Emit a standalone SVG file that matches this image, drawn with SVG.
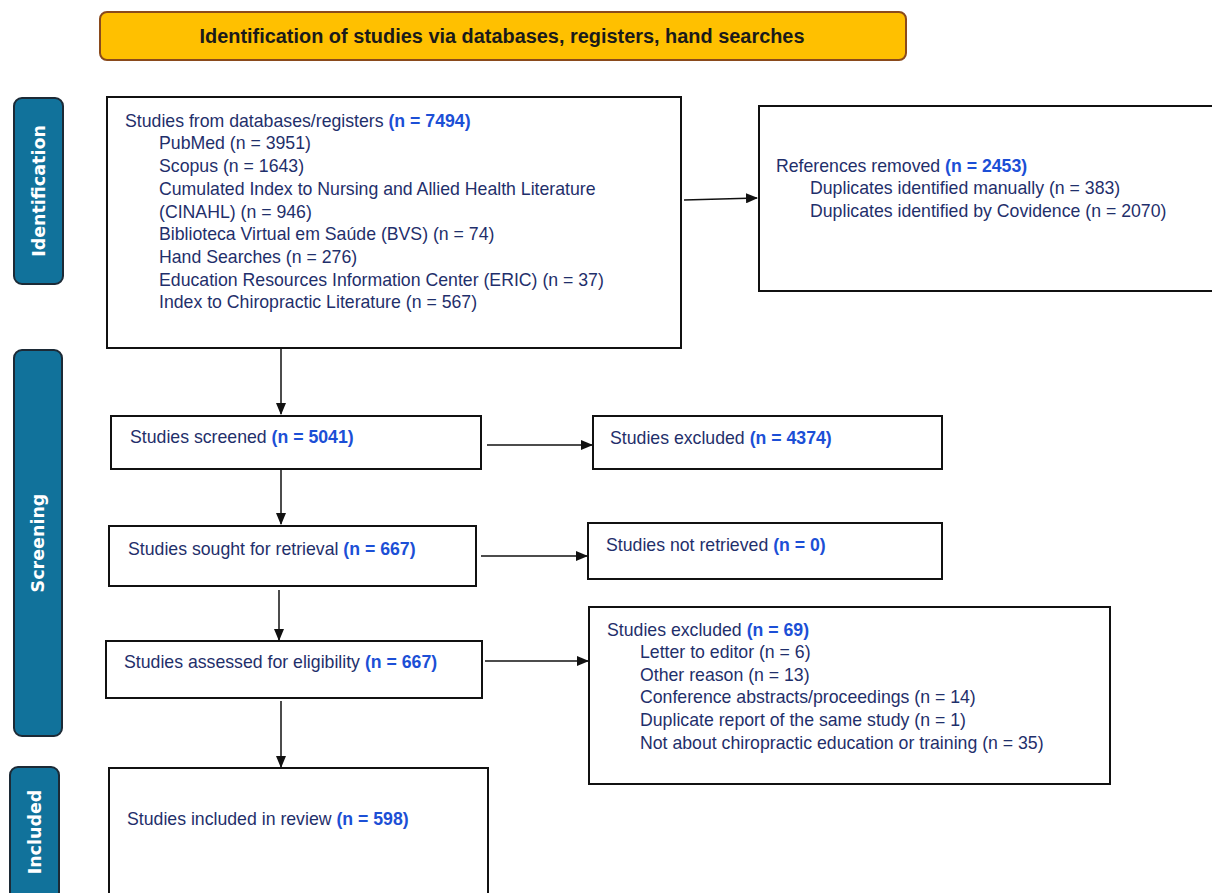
<svg xmlns="http://www.w3.org/2000/svg" width="1212" height="893" viewBox="0 0 1212 893">
<style>
.box{fill:#fff;stroke:#111;stroke-width:2}
.side{fill:#11729b;stroke:#1c2a36;stroke-width:2}
.side-t{font-family:"DejaVu Sans",sans-serif;font-weight:bold;font-size:17.5px;fill:#fff;text-anchor:middle}
.t{font-family:"Liberation Sans",Arial,sans-serif;font-size:17.7px;fill:#1f2f6b}
.b{font-weight:bold;fill:#1c4fd6}
.hdr{font-family:"Liberation Sans",Arial,sans-serif;font-weight:bold;font-size:19.5px;fill:#1a1a1a;text-anchor:middle}
.c{stroke:#111;stroke-width:1.5;fill:none;marker-end:url(#ah)}
</style>
<defs>
<marker id="ah" viewBox="0 0 12 10" refX="11" refY="5" markerWidth="12" markerHeight="10" markerUnits="userSpaceOnUse" orient="auto">
<path d="M0,0 L12,5 L0,10 z" fill="#111"/>
</marker>
</defs>
<rect width="1212" height="893" fill="#fff"/>
<g id="header">
<rect x="100" y="12" width="806" height="48" rx="7" fill="#ffc000" stroke="#8a4a1c" stroke-width="2"/>
<text class="hdr" x="502" y="43" textLength="605" lengthAdjust="spacingAndGlyphs">Identification of studies via databases, registers, hand searches</text>
</g>
<g id="phase-identification">
<rect class="side" x="14" y="98" width="49" height="186" rx="8"/>
<text class="side-t" transform="translate(45,191) rotate(-90)">Identification</text>
</g>
<g id="phase-screening">
<rect class="side" x="14" y="350" width="48" height="386" rx="8"/>
<text class="side-t" transform="translate(44,543) rotate(-90)">Screening</text>
</g>
<g id="phase-included">
<rect class="side" x="10" y="767" width="49" height="140" rx="8"/>
<text class="side-t" transform="translate(41,832) rotate(-90)">Included</text>
</g>
<g id="n-databases">
<rect class="box" x="107" y="97" width="574" height="251"/>
<text class="t" x="125" y="127">Studies from databases/registers <tspan class="b">(n = 7494)</tspan></text>
<text class="t" x="159" y="149">PubMed (n = 3951)</text>
<text class="t" x="159" y="172">Scopus (n = 1643)</text>
<text class="t" x="159" y="195">Cumulated Index to Nursing and Allied Health Literature</text>
<text class="t" x="159" y="218">(CINAHL) (n = 946)</text>
<text class="t" x="159" y="240">Biblioteca Virtual em Saúde (BVS) (n = 74)</text>
<text class="t" x="159" y="263">Hand Searches (n = 276)</text>
<text class="t" x="159" y="286">Education Resources Information Center (ERIC) (n = 37)</text>
<text class="t" x="159" y="308">Index to Chiropractic Literature (n = 567)</text>
</g>
<g id="n-removed">
<rect class="box" x="759" y="106" width="460" height="185"/>
<text class="t" x="776" y="172">References removed <tspan class="b">(n = 2453)</tspan></text>
<text class="t" x="810" y="194">Duplicates identified manually (n = 383)</text>
<text class="t" x="810" y="217">Duplicates identified by Covidence (n = 2070)</text>
</g>
<g id="n-screened">
<rect class="box" x="111" y="416" width="370" height="53"/>
<text class="t" x="130" y="443">Studies screened <tspan class="b">(n = 5041)</tspan></text>
</g>
<g id="n-excluded1">
<rect class="box" x="593" y="416" width="349" height="53"/>
<text class="t" x="610" y="444">Studies excluded <tspan class="b">(n = 4374)</tspan></text>
</g>
<g id="n-sought">
<rect class="box" x="109" y="526" width="367" height="60"/>
<text class="t" x="128" y="555">Studies sought for retrieval <tspan class="b">(n = 667)</tspan></text>
</g>
<g id="n-notretrieved">
<rect class="box" x="588" y="523" width="354" height="56"/>
<text class="t" x="606" y="551">Studies not retrieved <tspan class="b">(n = 0)</tspan></text>
</g>
<g id="n-eligibility">
<rect class="box" x="106" y="641" width="376" height="57"/>
<text class="t" x="124" y="668">Studies assessed for eligibility <tspan class="b">(n = 667)</tspan></text>
</g>
<g id="n-excluded2">
<rect class="box" x="589" y="607" width="521" height="177"/>
<text class="t" x="607" y="636">Studies excluded <tspan class="b">(n = 69)</tspan></text>
<text class="t" x="640" y="658">Letter to editor (n = 6)</text>
<text class="t" x="640" y="681">Other reason (n = 13)</text>
<text class="t" x="640" y="703">Conference abstracts/proceedings (n = 14)</text>
<text class="t" x="640" y="726">Duplicate report of the same study (n = 1)</text>
<text class="t" x="640" y="749">Not about chiropractic education or training (n = 35)</text>
</g>
<g id="n-included">
<rect class="box" x="109" y="768" width="379" height="130"/>
<text class="t" x="127" y="825">Studies included in review <tspan class="b">(n = 598)</tspan></text>
</g>
<g id="connectors">
<line class="c" x1="684" y1="200" x2="757" y2="198"/>
<line class="c" x1="281" y1="348" x2="281" y2="414"/>
<line class="c" x1="487" y1="445" x2="592" y2="445"/>
<line class="c" x1="281" y1="469" x2="281" y2="524"/>
<line class="c" x1="481" y1="556" x2="587" y2="556"/>
<line class="c" x1="279" y1="590" x2="279" y2="640"/>
<line class="c" x1="485" y1="661" x2="588" y2="661"/>
<line class="c" x1="281" y1="701" x2="281" y2="767"/>
</g>
</svg>
